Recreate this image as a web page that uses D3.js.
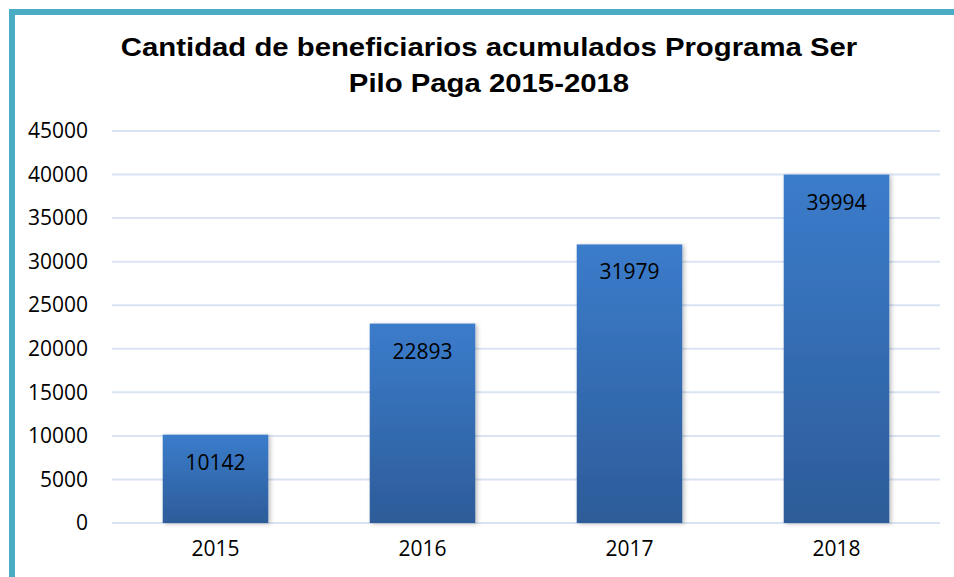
<!DOCTYPE html>
<html>
<head>
<meta charset="utf-8">
<script src="https://cdn.jsdelivr.net/npm/d3@7"></script>
<style>
  body { margin: 0; background: #fff; }
  svg { display: block; }
</style>
</head>
<body>
<svg id="chart"></svg>
<script>
// data
const years = ["2015", "2016", "2017", "2018"];
const beneficiarios = [10142, 22893, 31979, 39994];
const yTicks = [0, 5000, 10000, 15000, 20000, 25000, 30000, 35000, 40000, 45000];
const titleLines = ["Cantidad de beneficiarios acumulados Programa Ser", "Pilo Paga 2015-2018"];

const width = 954, height = 577;
const margin = { top: 131, right: 14, bottom: 54, left: 112 };
const innerW = width - margin.left - margin.right;
const innerH = height - margin.top - margin.bottom;

const svg = d3.select("#chart")
  .attr("width", width)
  .attr("height", height);

// bar gradient
const defs = svg.append("defs");
const grad = defs.append("linearGradient")
  .attr("id", "barGrad")
  .attr("x1", 0).attr("y1", 0).attr("x2", 0).attr("y2", 1);
grad.append("stop").attr("offset", "0%").attr("stop-color", "#3b7ccb");
grad.append("stop").attr("offset", "100%").attr("stop-color", "#2d5c99");

const shadow = defs.append("filter").attr("id", "shadow")
  .attr("x", "-10%").attr("y", "-10%").attr("width", "130%").attr("height", "120%");
shadow.append("feDropShadow")
  .attr("dx", 2).attr("dy", 1).attr("stdDeviation", 2)
  .attr("flood-color", "#000").attr("flood-opacity", 0.25);

// outer frame (right and bottom run off the picture)
svg.append("rect")
  .attr("x", 12).attr("y", 12)
  .attr("width", width + 20).attr("height", height + 20)
  .attr("fill", "none")
  .attr("stroke", "#4bacc6")
  .attr("stroke-width", 6);

// title - the original is stretched sideways a bit
const titleX = 489;
svg.append("g")
  .attr("transform", `translate(${titleX},0) scale(1.15,1)`)
  .append("text")
  .attr("text-anchor", "middle")
  .style("font-family", "'Liberation Sans', Arial, sans-serif")
  .style("font-weight", "bold")
  .style("font-size", "25.5px")
  .attr("fill", "#000")
  .selectAll("tspan")
  .data(titleLines)
  .join("tspan")
    .attr("x", 0)
    .attr("y", (d, i) => 56 + i * 36)
    .text(d => d);

const chart = svg.append("g")
  .attr("transform", `translate(${margin.left},${margin.top})`);

const x = d3.scaleBand()
  .domain(years)
  .range([0, innerW])
  .paddingInner(0.49)
  .paddingOuter(0.245);

const y = d3.scaleLinear()
  .domain([0, 45000])
  .range([innerH, 0]);

// gridlines
chart.append("g")
  .selectAll("line")
  .data(yTicks)
  .join("line")
    .attr("x1", 0)
    .attr("x2", innerW)
    .attr("y1", d => y(d))
    .attr("y2", d => y(d))
    .attr("stroke", "#d9e3f3")
    .attr("stroke-width", 2);

const fontFam = "'Open Sans', 'Liberation Sans', sans-serif";

// y axis labels
const yAxis = d3.axisLeft(y).tickValues(yTicks).tickFormat(d3.format("d")).tickSize(0).tickPadding(24);
chart.append("g")
  .call(yAxis)
  .call(g => g.select(".domain").remove())
  .selectAll("text")
    .style("font-family", fontFam)
    .style("font-size", "21px")
    .attr("fill", "#000");

// x axis labels
const xAxis = d3.axisBottom(x).tickSize(0).tickPadding(18);
chart.append("g")
  .attr("transform", `translate(0,${innerH})`)
  .call(xAxis)
  .call(g => g.select(".domain").remove())
  .selectAll("text")
    .style("font-family", fontFam)
    .style("font-size", "21px")
    .attr("fill", "#000");

// bars
chart.selectAll(".bar")
  .data(beneficiarios)
  .join("rect")
    .attr("class", "bar")
    .attr("x", (d, i) => x(years[i]))
    .attr("y", d => y(d))
    .attr("width", x.bandwidth())
    .attr("height", d => innerH - y(d))
    .attr("fill", "url(#barGrad)")
    .attr("filter", "url(#shadow)");

// value labels inside the bars
chart.selectAll(".val")
  .data(beneficiarios)
  .join("text")
    .attr("class", "val")
    .attr("x", (d, i) => x(years[i]) + x.bandwidth() / 2)
    .attr("y", d => y(d) + 35)
    .attr("text-anchor", "middle")
    .style("font-family", fontFam)
    .style("font-size", "21px")
    .attr("fill", "#000")
    .text(d => d);
</script>
</body>
</html>
